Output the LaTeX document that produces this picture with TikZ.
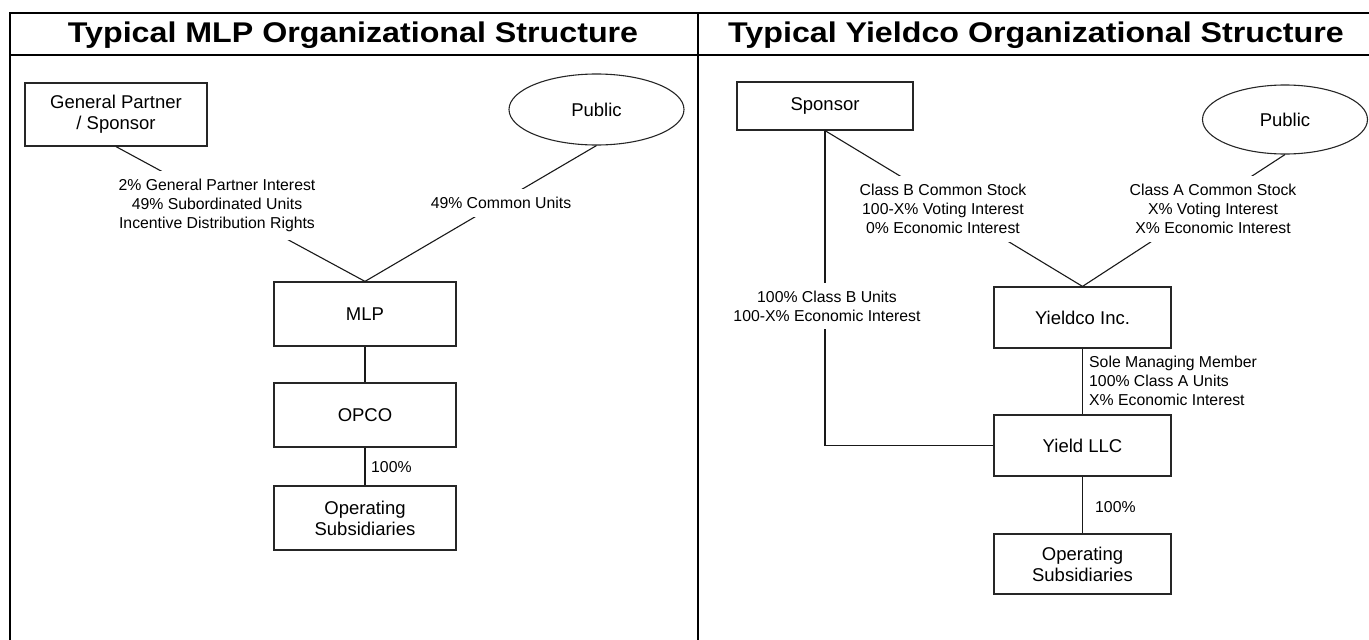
\documentclass[tikz,border=0pt]{standalone}
\usepackage{fontspec}
\setmainfont{Liberation Sans}
\newfontfamily\titlefont{Liberation Sans}[FakeStretch=1.13]
\usetikzlibrary{shapes.geometric}
\begin{document}
\begin{tikzpicture}[x=1pt,y=-1pt,
  box/.style={draw=black!85, line width=1.2pt, rectangle, align=center,
    font=\fontsize{18.5}{21}\selectfont, inner sep=0pt},
  oval/.style={draw=black!85, line width=1.1pt, ellipse, inner sep=0pt,
    font=\fontsize{18.5}{21}\selectfont},
  lbl/.style={fill=white, inner xsep=3pt, inner ysep=8pt, align=center,
    font=\fontsize{15.8}{19.3}\selectfont},
  lbltxt/.style={inner sep=0pt, align=left, font=\fontsize{15.8}{19.3}\selectfont},
  conn/.style={line width=1.1pt, black!90},
  frameline/.style={line width=2.5pt, black},
  ttl/.style={font=\titlefont\bfseries\fontsize{28.5}{30}\selectfont, inner sep=0pt}]
\useasboundingbox (0,0) rectangle (1369,640);
\clip (0,0) rectangle (1369,640);
% frame
\draw[frameline] (10,13) rectangle (1400,700);
\draw[frameline] (10,55) -- (1400,55);
\draw[frameline] (698,13) -- (698,700);
% titles
\node[ttl, anchor=base] (t1) at (353,42) {Typical MLP Organizational Structure};
\node[ttl, anchor=base] (t2) at (1036,42) {Typical Yieldco Organizational Structure};
% left side
\node[box, minimum width=182pt, minimum height=63pt] (gp) at (116,114.5) {General Partner\\/ Sponsor};
\node[oval, minimum width=175pt, minimum height=71pt] (pubL) at (596.5,109.5) {Public};
\node[box, minimum width=182pt, minimum height=64pt] (mlp) at (365,314) {MLP};
\node[box, minimum width=182pt, minimum height=64pt] (opco) at (365,415) {OPCO};
\node[box, minimum width=182pt, minimum height=64pt] (subsL) at (365,518) {Operating\\Subsidiaries};
% right side
\node[box, minimum width=176pt, minimum height=48pt] (sponsor) at (825,106) {Sponsor};
\node[oval, minimum width=165pt, minimum height=69pt] (pubR) at (1285,119.5) {Public};
\node[box, minimum width=177pt, minimum height=61pt] (yco) at (1082.5,317.5) {Yieldco Inc.};
\node[box, minimum width=177pt, minimum height=61pt] (yllc) at (1082.5,445.5) {Yield LLC};
\node[box, minimum width=177pt, minimum height=60pt] (subsR) at (1082.5,564) {Operating\\Subsidiaries};
% connectors
\draw[conn] (gp.south) -- (mlp.north);
\draw[conn] (pubL.south) -- (mlp.north);
\draw[conn] (mlp) -- (opco);
\draw[conn] (opco) -- (subsL);
\draw[conn] (sponsor.south) -- (yco.north);
\draw[conn] (pubR.south) -- (yco.north);
\draw[conn] (sponsor.south) |- (yllc.west);
\draw[conn] (yco) -- (yllc);
\draw[conn] (yllc) -- (subsR);
% labels
\node[lbl] (l1) at (217,205.5) {2\% General Partner Interest\\49\% Subordinated Units\\Incentive Distribution Rights};
\node[lbl] (l2) at (501,203) {49\% Common Units};
\node[lbltxt, anchor=west] (l3) at (371,467) {100\%};
\node[lbl] (l4) at (943,209) {Class B Common Stock\\100-X\% Voting Interest\\0\% Economic Interest};
\node[lbl] (l5) at (1213,209) {Class A Common Stock\\X\% Voting Interest\\X\% Economic Interest};
\node[lbl] (l6) at (827,306) {100\% Class B Units\\100-X\% Economic Interest};
\node[lbltxt, anchor=west] (l7) at (1089,381) {Sole Managing Member\\100\% Class A Units\\X\% Economic Interest};
\node[lbltxt, anchor=west] (l8) at (1095,507) {100\%};
\end{tikzpicture}
\end{document}
